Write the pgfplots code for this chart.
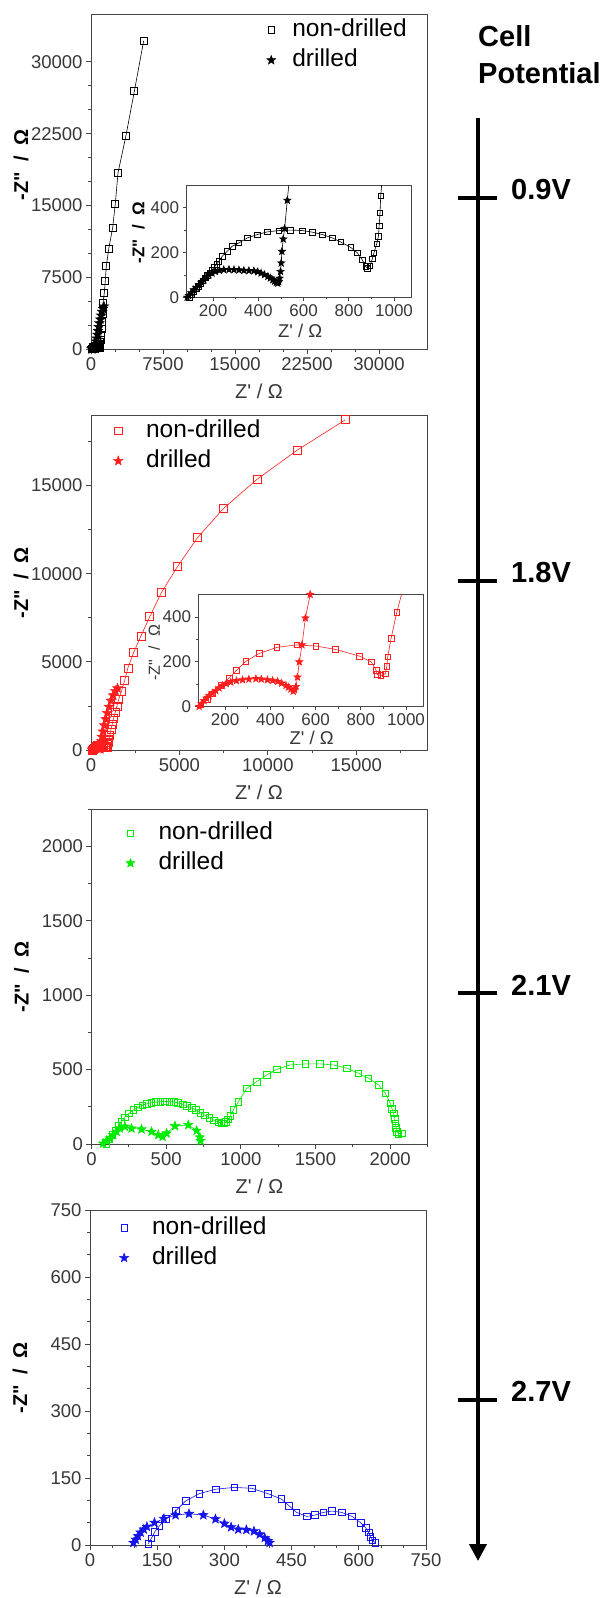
\documentclass[border=0pt]{standalone}
\usepackage{pgfplots}
\pgfplotsset{compat=1.18}
\usepackage{pgfplotstable}
\usepackage{fontspec}
\setmainfont{Liberation Sans}
\usetikzlibrary{arrows.meta}

\definecolor{axcol}{RGB}{70,70,70}
\definecolor{tlcol}{RGB}{55,55,55}
\definecolor{cred}{RGB}{255,30,30}
\definecolor{cgreen}{RGB}{0,235,0}
\definecolor{cblue}{RGB}{20,20,235}

\pgfdeclareplotmark{fstar}{%
  \pgfpathmoveto{\pgfpointpolar{90}{\pgfplotmarksize}}%
  \pgfpathlineto{\pgfpointpolar{126}{0.42\pgfplotmarksize}}%
  \pgfpathlineto{\pgfpointpolar{162}{\pgfplotmarksize}}%
  \pgfpathlineto{\pgfpointpolar{198}{0.42\pgfplotmarksize}}%
  \pgfpathlineto{\pgfpointpolar{234}{\pgfplotmarksize}}%
  \pgfpathlineto{\pgfpointpolar{270}{0.42\pgfplotmarksize}}%
  \pgfpathlineto{\pgfpointpolar{306}{\pgfplotmarksize}}%
  \pgfpathlineto{\pgfpointpolar{342}{0.42\pgfplotmarksize}}%
  \pgfpathlineto{\pgfpointpolar{18}{\pgfplotmarksize}}%
  \pgfpathlineto{\pgfpointpolar{54}{0.42\pgfplotmarksize}}%
  \pgfpathclose
  \pgfusepathqfillstroke
}

% ---------- data ----------
\pgfplotstableread[row sep=\\]{
x y\\
95 0\\105 12\\115 25\\125 38\\135 50\\145 62\\155 75\\165 87\\175 99\\185 110\\195 122\\205 135\\215 148\\225 160\\240 183\\262 205\\284 228\\314 243\\351 265\\395 280\\439 292\\491 298\\542 300\\594 298\\638 291\\683 280\\727 265\\764 247\\808 223\\838 198\\859 168\\874 138\\882 130\\894 141\\904 172\\911 198\\923 238\\931 273\\934 318\\938 377\\941 452\\950 560\\965 750\\990 1000\\1030 1500\\1080 2100\\1130 2800\\1190 3700\\1250 4825\\1389 5870\\1493 7170\\1597 8670\\1840 10420\\2257 12690\\2535 15210\\2812 18390\\3646 22310\\4514 26920\\5486 32200\\
}\BlkND
\pgfplotstableread[row sep=\\]{
x y\\
85 0\\92 7\\103 20\\114 33\\125 44\\137 55\\148 67\\159 78\\170 89\\181 100\\195 108\\210 115\\228 120\\247 123\\270 124\\292 123\\314 122\\336 120\\358 119\\380 118\\397 114\\412 108\\427 101\\442 93\\453 86\\464 78\\472 72\\479 66\\486 63\\490 70\\494 85\\498 115\\501 153\\504 205\\510 260\\516 307\\528 433\\540 560\\560 800\\600 1100\\660 1500\\730 1900\\800 2300\\880 2700\\960 3100\\1050 3500\\1150 3900\\1250 4200\\1350 4450\\
}\BlkD
\pgfplotstableread[row sep=\\]{
x y\\
92 8\\122 33\\144 56\\181 94\\218 128\\250 161\\292 202\\351 237\\429 264\\517 275\\601 270\\687 255\\794 225\\846 199\\868 161\\872 143\\889 139\\909 146\\915 180\\919 222\\934 305\\959 421\\985 520\\1000 600\\1060 850\\1130 1150\\1200 1450\\1280 1800\\1375 2150\\1469 2500\\1560 2850\\1712 3300\\1900 3935\\2086 4658\\2406 5513\\2820 6464\\3327 7567\\3985 8935\\4887 10399\\6015 12034\\7481 13688\\9398 15361\\11673 17015\\14380 18726\\
}\RedND
\pgfplotstableread[row sep=\\]{
x y\\
85 0\\96 13\\107 26\\118 37\\129 48\\144 60\\159 71\\173 83\\188 94\\205 102\\225 109\\250 115\\277 119\\305 122\\336 124\\360 122\\387 119\\410 116\\432 112\\450 104\\469 94\\480 86\\491 78\\501 68\\507 75\\513 89\\520 131\\528 199\\540 275\\555 395\\576 500\\620 750\\680 1050\\750 1400\\830 1750\\920 2100\\1020 2450\\1130 2800\\1250 3100\\1380 3350\\1500 3500\\
}\RedD
\pgfplotstableread[row sep=\\]{
x y\\
100 0\\120 30\\140 60\\160 90\\180 120\\200 150\\225 180\\250 205\\280 228\\310 246\\340 260\\370 270\\400 277\\430 282\\460 285\\490 286\\520 285\\550 282\\580 276\\610 267\\640 256\\670 243\\700 228\\730 211\\760 193\\790 175\\820 159\\850 146\\870 140\\885 140\\900 148\\915 165\\930 190\\950 229\\984 285\\1040 374\\1107 419\\1174 464\\1241 502\\1330 531\\1431 538\\1531 538\\1621 531\\1710 509\\1788 475\\1855 442\\1923 397\\1967 341\\2001 274\\2013 235\\2023 206\\2030 170\\2034 139\\2040 110\\2045 83\\2055 70\\2079 72\\
}\GrnND
\pgfplotstableread[row sep=\\]{
x y\\
78 4\\101 22\\123 38\\145 61\\168 83\\190 105\\224 117\\268 105\\335 99\\402 83\\447 61\\476 49\\503 72\\559 121\\648 128\\704 90\\726 45\\731 22\\
}\GrnD
\pgfplotstableread[row sep=\\]{
x y\\
130 3\\137 15\\145 30\\155 43\\169 58\\191 76\\214 99\\244 115\\281 125\\322 129\\361 127\\397 115\\427 103\\444 88\\461 73\\484 64\\502 67\\521 73\\540 76\\562 73\\585 64\\604 50\\616 38\\622 28\\626 18\\630 10\\637 5\\
}\BluND
\pgfplotstableread[row sep=\\]{
x y\\
97 5\\102 12\\107 20\\113 28\\120 35\\127 41\\144 50\\165 59\\191 67\\221 70\\253 67\\280 58\\300 48\\315 40\\331 35\\349 34\\366 31\\379 24\\390 16\\397 9\\401 5\\
}\BluD

\newcommand{\ylab}{-Z\textquotedbl\hspace{5pt} /\hspace{5pt} Ω}
\newcommand{\xlab}{Z\textquotesingle{} / Ω}

\pgfplotsset{
  mainax/.style={
    scale only axis, width=336pt, height=335pt, anchor=north west,
    axis line style={draw=axcol, line width=0.9pt},
    tick style={draw=axcol, line width=0.8pt},
    tick align=outside, xtick pos=bottom, ytick pos=left,
    major tick length=5pt, minor tick length=3pt,
    tick label style={font=\fontsize{18.5}{18.5}\selectfont, text=tlcol},
    /pgf/number format/assume math mode=true,
    /pgf/number format/1000 sep={},
    scaled ticks=false,
    xlabel={\xlab},
    ylabel={\bfseries\ylab},
    xlabel style={at={(axis description cs:0.5,-0.125)}, anchor=center, font=\fontsize{20}{20}\selectfont, text=tlcol},
    ylabel style={at={(axis description cs:-0.208,0.5)}, anchor=center, font=\fontsize{20}{20}\selectfont, text=black},
    legend cell align=left,
    legend image code/.code={\draw[##1] plot coordinates {(0pt,0pt)};},
    legend style={draw=none, fill=none, anchor=north west, inner sep=0pt,
      font=\fontsize{24.5}{24.5}\selectfont, text=black, row sep=5pt,
      nodes={inner sep=1pt, text height=18pt, text depth=5pt}},
  },
  inset/.style={
    scale only axis, width=225pt, height=112pt, anchor=north west,
    xmin=80, xmax=1075, ymin=0, ymax=500,
    xtick={200,400,...,1000}, ytick={0,200,400},
    minor x tick num=1, minor y tick num=1,
    axis background/.style={fill=white},
    axis line style={draw=axcol, line width=0.8pt},
    tick style={draw=axcol, line width=0.7pt},
    tick align=outside, xtick pos=bottom, ytick pos=left,
    major tick length=3.5pt, minor tick length=2pt,
    tick label style={font=\fontsize{17}{17}\selectfont, text=tlcol},
    /pgf/number format/assume math mode=true,
    /pgf/number format/1000 sep={},
    scaled ticks=false,
    xlabel={\xlab},
    ylabel={\ylab},
    xlabel style={anchor=center, font=\fontsize{18.5}{18.5}\selectfont, text=tlcol},
    ylabel style={anchor=center, text=tlcol},
  },
}

\begin{document}
\begin{tikzpicture}
\path[use as bounding box] (0pt,0pt) rectangle (610pt,-1598pt);

% ---------------- Panel 1 (0.9 V) ----------------
\begin{axis}[mainax, at={(91pt,-14pt)},
  xmin=0, xmax=35000, ymin=0, ymax=35000,
  xtick={0,7500,...,30000}, ytick={0,7500,...,30000}, minor tick num=2,
  ylabel style={at={(axis description cs:-0.208,0.55)}},
  legend style={at={(axis description cs:0.5223,0.9896)}, column sep=15.5pt}]
\addlegendimage{only marks, mark=square, mark size=3.4pt, black, mark options={line width=0.7pt}}
\addlegendentry{non-drilled}
\addlegendimage{only marks, mark=fstar, mark size=4.8pt, black, mark options={fill=black}}
\addlegendentry{drilled}
\addplot[black, line width=0.6pt, mark=square, mark size=3.5pt, mark options={line width=0.7pt}, forget plot] table {\BlkND};
\addplot[black, line width=0.6pt, mark=fstar, mark size=4.8pt, mark options={fill=black}, forget plot] table {\BlkD};
\end{axis}

\begin{axis}[inset, at={(186pt,-185.3pt)},
  xlabel style={at={(axis description cs:0.507,-0.3)}},
  ylabel style={at={(axis description cs:-0.212,0.58)}, font=\bfseries\fontsize{17}{17}\selectfont, text=black}]
\addplot[black, line width=0.6pt, mark=square, mark size=2.7pt, mark options={line width=0.6pt}] table {\BlkND};
\addplot[black, line width=0.6pt, mark=fstar, mark size=3.8pt, mark options={fill=black}] table {\BlkD};
\end{axis}

% ---------------- Panel 2 (1.8 V) ----------------
\begin{axis}[mainax, at={(91pt,-415pt)},
  xmin=0, xmax=19000, ymin=0, ymax=19000,
  xtick={0,5000,...,20000}, ytick={0,5000,...,20000}, minor tick num=1,
  legend style={at={(axis description cs:0.0664,0.9904)}, column sep=22pt}]
\addlegendimage{only marks, mark=square, mark size=3.8pt, cred, mark options={line width=0.7pt}}
\addlegendentry{non-drilled}
\addlegendimage{only marks, mark=fstar, mark size=5pt, cred, mark options={fill=cred}}
\addlegendentry{drilled}
\addplot[cred, line width=0.6pt, mark=square, mark size=4pt, mark options={line width=0.7pt}, forget plot] table {\RedND};
\addplot[cred, line width=0.6pt, mark=fstar, mark size=5pt, mark options={fill=cred}, forget plot] table {\RedD};
\end{axis}

\begin{axis}[inset, at={(198pt,-594.5pt)},
  xlabel style={at={(axis description cs:0.505,-0.28)}},
  ylabel style={at={(axis description cs:-0.195,0.48)}, font=\fontsize{16}{16}\selectfont}]
\addplot[cred, line width=0.6pt, mark=square, mark size=2.8pt, mark options={line width=0.6pt}] table {\RedND};
\addplot[cred, line width=0.6pt, mark=fstar, mark size=3.8pt, mark options={fill=cred}] table {\RedD};
\end{axis}

% ---------------- Panel 3 (2.1 V) ----------------
\begin{axis}[mainax, at={(91.5pt,-809pt)},
  xmin=0, xmax=2250, ymin=0, ymax=2250,
  xtick={0,500,...,2500}, ytick={0,500,...,2500}, minor tick num=1,
  legend style={at={(axis description cs:0.1018,0.9657)}, column sep=22.5pt}]
\addlegendimage{only marks, mark=square, mark size=3.2pt, cgreen, mark options={line width=0.7pt}}
\addlegendentry{non-drilled}
\addlegendimage{only marks, mark=fstar, mark size=4.8pt, cgreen, mark options={fill=cgreen}}
\addlegendentry{drilled}
\addplot[cgreen, line width=0.6pt, mark=square, mark size=3.3pt, mark options={line width=0.7pt}, forget plot] table {\GrnND};
\addplot[cgreen, line width=0.6pt, mark=fstar, mark size=4.8pt, mark options={fill=cgreen}, forget plot] table {\GrnD};
\end{axis}

% ---------------- Panel 4 (2.7 V) ----------------
\begin{axis}[mainax, at={(90pt,-1210pt)},
  xmin=0, xmax=750, ymin=0, ymax=750,
  xtick={0,150,...,750}, ytick={0,150,...,750}, minor tick num=2,
  legend style={at={(axis description cs:0.0875,0.9845)}, column sep=22.3pt}]
\addlegendimage{only marks, mark=square, mark size=3.2pt, cblue, mark options={line width=0.7pt}}
\addlegendentry{non-drilled}
\addlegendimage{only marks, mark=fstar, mark size=4.8pt, cblue, mark options={fill=cblue}}
\addlegendentry{drilled}
\addplot[cblue, line width=0.6pt, mark=square, mark size=3.3pt, mark options={line width=0.7pt}, forget plot] table {\BluND};
\addplot[cblue, line width=0.6pt, mark=fstar, mark size=4.8pt, mark options={fill=cblue}, forget plot] table {\BluD};
\end{axis}

% ---------------- Cell potential arrow ----------------
\node[anchor=west, inner sep=0pt, font=\bfseries\fontsize{29}{29}\selectfont] at (478pt,-36pt) {Cell};
\node[anchor=west, inner sep=0pt, font=\bfseries\fontsize{29}{29}\selectfont] at (478pt,-73pt) {Potential};
\draw[line width=4pt, -{Triangle[width=17pt,length=17pt]}] (478pt,-118pt) -- (478pt,-1561pt);
\foreach \yy/\lab/\ly in {198/0.9V/190, 581/1.8V/573, 993/2.1V/985, 1400/2.7V/1391}{
  \draw[line width=4pt] (458pt,-\yy pt) -- (497pt,-\yy pt);
  \node[anchor=west, inner sep=0pt, font=\bfseries\fontsize{29}{29}\selectfont] at (511pt,-\ly pt) {\lab};
}
\end{tikzpicture}
\end{document}
